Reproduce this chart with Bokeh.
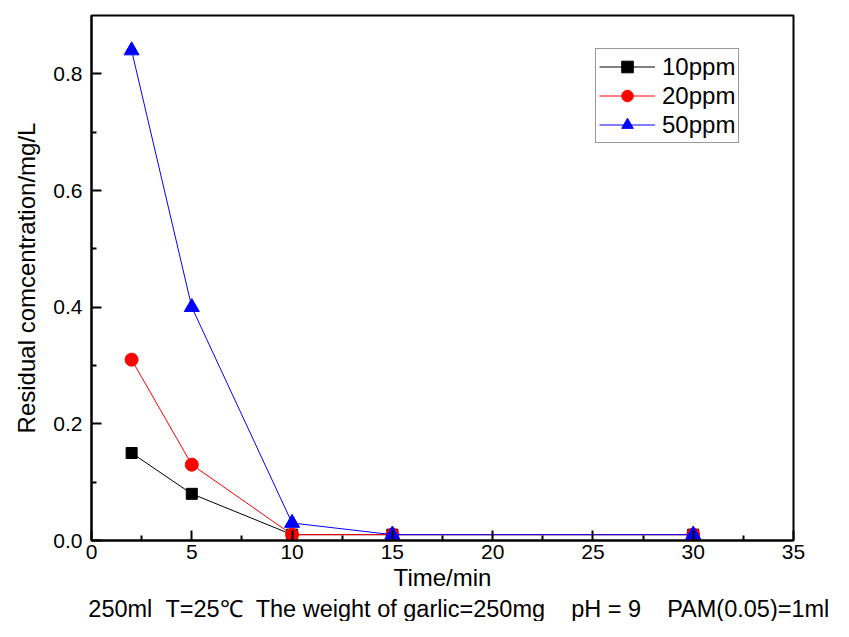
from bokeh.plotting import figure
from bokeh.models import FixedTicker, Range1d, Legend, Title, NumeralTickFormatter
from bokeh.embed import file_html
from bokeh.resources import INLINE

time_min = [2, 5, 10, 15, 30]
c10 = [0.15, 0.08, 0.01, 0.01, 0.01]
c20 = [0.31, 0.13, 0.01, 0.01, 0.01]
c50 = [0.84, 0.40, 0.03, 0.01, 0.01]

x_ticks = [0, 5, 10, 15, 20, 25, 30, 35]
x_minor = [2.5, 7.5, 12.5, 17.5, 22.5, 27.5, 32.5]
y_ticks = [0.0, 0.2, 0.4, 0.6, 0.8]
y_minor = [0.1, 0.3, 0.5, 0.7]

FONT = "Liberation Sans"
NB = "\u00a0"
subtitle = (NB * 5 + "250ml" + NB * 2 + "T=25\u2103" + NB * 2 + "The weight of garlic=250mg" + NB * 4
            + "pH = 9" + NB * 4 + "PAM(0.05)=1ml").replace(" ", NB)

p = figure(width=833, height=621, output_backend="svg", toolbar_location=None,
           x_range=Range1d(0, 35), y_range=Range1d(0, 0.9),
           min_border_left=91, min_border_right=40, min_border_top=15, min_border_bottom=0)
p.xgrid.visible = False
p.ygrid.visible = False
p.outline_line_color = "black"
p.outline_line_width = 2
p.background_fill_color = "white"
p.border_fill_color = "white"

for ax in (p.xaxis[0], p.yaxis[0]):
    ax.axis_line_width = 2
    ax.major_tick_in = 10
    ax.major_tick_out = 0
    ax.minor_tick_in = 5
    ax.minor_tick_out = 0
    ax.major_tick_line_width = 2
    ax.minor_tick_line_width = 2
    ax.major_label_text_font = FONT
    ax.major_label_text_font_size = "21px"
    ax.major_label_text_color = "black"
    ax.axis_label_text_font = FONT
    ax.axis_label_text_font_size = "24px"
    ax.axis_label_text_font_style = "normal"
    ax.axis_label_text_color = "black"

p.xaxis[0].ticker = FixedTicker(ticks=x_ticks, minor_ticks=x_minor)
p.yaxis[0].ticker = FixedTicker(ticks=y_ticks, minor_ticks=y_minor)
p.yaxis[0].formatter = NumeralTickFormatter(format="0.0")
p.yaxis[0].axis_label = "Residual comcentration/mg/L"
p.xaxis[0].axis_label = "Time/min"
p.xaxis[0].major_label_standoff = 4
p.xaxis[0].axis_label_standoff = 2
p.yaxis[0].major_label_standoff = 9
p.yaxis[0].axis_label_standoff = 10

r1l = p.line(time_min, c10, line_color="black", line_width=1)
r1m = p.scatter(time_min, c10, marker="square", size=11, color="black")
r2l = p.line(time_min, c20, line_color="red", line_width=1)
r2m = p.scatter(time_min, c20, marker="circle", size=13, color="red")
r3l = p.line(time_min, c50, line_color="blue", line_width=1)
r3m = p.scatter(time_min, c50, marker="triangle", size=15, color="blue")

legend = Legend(items=[("10ppm", [r1l, r1m]), ("20ppm", [r2l, r2m]), ("50ppm", [r3l, r3m])],
                location=(504, 397))
legend.label_text_font = FONT
legend.label_text_font_size = "24px"
legend.label_text_color = "black"
legend.border_line_color = "#333333"
legend.border_line_width = 1.5
legend.padding = 3
legend.spacing = 0
legend.glyph_width = 56
legend.glyph_height = 29
legend.label_height = 29
legend.label_standoff = 7
legend.margin = 0
p.add_layout(legend, "center")

sub = Title(text=subtitle, align="center", standoff=0,
            text_font=FONT, text_font_size="23.5px", text_font_style="normal",
            text_color="black")
p.add_layout(sub, "below")

open("out.html", "w").write(file_html(p, INLINE))
